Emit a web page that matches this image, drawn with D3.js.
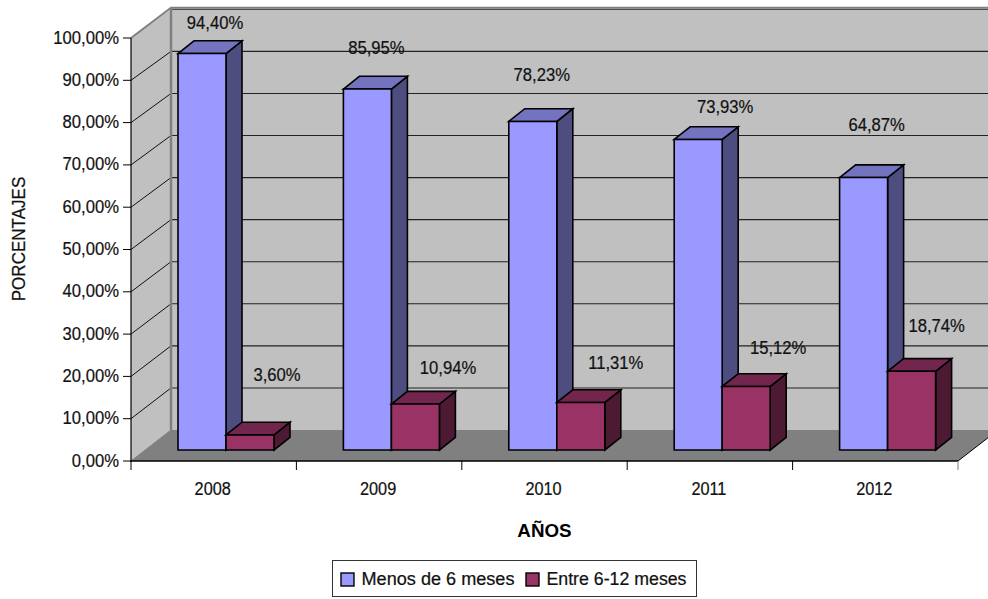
<!DOCTYPE html>
<html><head><meta charset="utf-8">
<script src="https://cdn.jsdelivr.net/npm/d3@7"></script>
<style>
html,body{margin:0;padding:0;background:#fff;overflow:hidden}
text{font-family:"Liberation Sans",sans-serif;fill:#111;stroke:#111;stroke-width:.22px}
</style></head><body><svg id="c" width="988" height="599"></svg>
<script>
const years=["2008","2009","2010","2011","2012"];
const seriesNames=["Menos de 6 meses","Entre 6-12 meses"];
const menos6=[94.40,85.95,78.23,73.93,64.87];
const entre612=[3.60,10.94,11.31,15.12,18.74];
const yTicks=[0,10,20,30,40,50,60,70,80,90,100];
// hand-placed data labels of the reference: lift above bar top, shift from bar centre
const labelLiftA=[24.5,35,40.5,26.5,46.5], labelShiftA=[13,9,9,27,13];
const labelLiftB=[54,30,33.4,32.4,39.5], labelShiftB=[27,32.6,35,32,25];

const fmt=v=>v.toFixed(2).replace(".",",")+"%";
const svg=d3.select("#c");
const L=131,R=958,B=461,T=38,DX=40,DY=31;
const y=d3.scaleLinear().domain([0,100]).range([B,T]);
const yBack=d3.scaleLinear().domain([0,100]).range([B-DY,9.3]);
const x=d3.scaleBand().domain(years).range([L,R]);
const bh=d3.scaleLinear().domain([0,100]).range([0,420]);
const barBase=450,barW=48,barInset=47,bdx=16,bdy=12.7;
const poly=(g,p,f,s=1.6)=>g.append("polygon").attr("points",p.map(a=>a.join(",")).join(" ")).attr("fill",f).attr("stroke","#000").attr("stroke-width",s).attr("stroke-linejoin","miter");
// narrow text: Arial-Narrow look made by squeezing Liberation Sans
function label(px,py,str,anchor="middle",size=18.5,sx=.9){
  return svg.append("text").attr("transform",`translate(${px},${py}) scale(${sx},1)`).attr("text-anchor",anchor).attr("font-size",size).text(str);
}

// walls
svg.append("polygon").attr("points",[[L+DX,yBack(100)],[R+DX,yBack(100)],[R+DX,B-DY],[L+DX,B-DY]].join(" ")).attr("fill","#c0c0c0");
svg.append("polygon").attr("points",[[L,T],[L+DX,yBack(100)],[L+DX,B-DY],[L,B]].join(" ")).attr("fill","#c0c0c0");
svg.append("polygon").attr("points",[[L,B],[L+DX,B-DY],[R+DX,B-DY],[R,B]].join(" ")).attr("fill","#808080");
// grid
const g=svg.append("g");
yTicks.filter(t=>t>0).forEach(t=>{
  g.append("line").attr("x1",L+DX).attr("x2",R+DX).attr("y1",yBack(t)).attr("y2",yBack(t)).attr("stroke","#222").attr("stroke-width",1.1);
  if(t<100) g.append("line").attr("x1",L).attr("x2",L+DX).attr("y1",y(t)).attr("y2",yBack(t)).attr("stroke","#111").attr("stroke-width",1);
});
// wall edges
svg.append("polyline").attr("points",[[L,T],[L+DX,yBack(100)-1.5],[R+DX,yBack(100)-1.5]].join(" ")).attr("fill","none").attr("stroke","#808080").attr("stroke-width",2);
svg.append("line").attr("x1",L+DX).attr("x2",L+DX).attr("y1",yBack(100)-1).attr("y2",B-DY).attr("stroke","#808080").attr("stroke-width",2.5);
svg.append("line").attr("x1",R).attr("x2",R+DX).attr("y1",B).attr("y2",B-DY).attr("stroke","#000").attr("stroke-width",1);
svg.append("line").attr("x1",L).attr("x2",L+DX).attr("y1",B).attr("y2",B-DY).attr("stroke","#808080").attr("stroke-width",1);

// bars
const colors=[{f:"#9999ff",t:"#7373bf",s:"#4d4d80"},{f:"#993366",t:"#73264d",s:"#4d1a33"}];
function bar(px,v,c){
  const h=bh(v),top=barBase-h,b=svg.append("g");
  poly(b,[[px+barW,top],[px+barW+bdx,top-bdy],[px+barW+bdx,barBase-bdy],[px+barW,barBase]],c.s);
  poly(b,[[px,top],[px+bdx,top-bdy],[px+barW+bdx,top-bdy],[px+barW,top]],c.t);
  poly(b,[[px,top],[px+barW,top],[px+barW,barBase],[px,barBase]],c.f);
}
years.forEach((yr,i)=>{
  const px=x(yr)+barInset;
  bar(px,menos6[i],colors[0]);
  bar(px+barW,entre612[i],colors[1]);
});
// axes
svg.append("line").attr("x1",L).attr("x2",L).attr("y1",T).attr("y2",B+1).attr("stroke","#000").attr("stroke-width",1.2);
svg.append("line").attr("x1",L-0.5).attr("x2",R).attr("y1",B).attr("y2",B).attr("stroke","#000").attr("stroke-width",1.5);
yTicks.forEach(t=>{
  svg.append("line").attr("x1",L-8).attr("x2",L).attr("y1",y(t)).attr("y2",y(t)).attr("stroke","#000").attr("stroke-width",1);
  label(119,y(t)+5.5,fmt(t),"end");
});
[...years.map(d=>x(d)),R].forEach(px=>{
  svg.append("line").attr("x1",px).attr("x2",px).attr("y1",B).attr("y2",B+9).attr("stroke",px===R?"#808080":"#000").attr("stroke-width",1);
});
years.forEach(yr=>label(x(yr)+x.bandwidth()/2-1,495,yr,"middle",18.5,.88));
// data labels
years.forEach((yr,i)=>{
  const px=x(yr)+barInset;
  label(px+barW/2+labelShiftA[i],barBase-bh(menos6[i])-labelLiftA[i],fmt(menos6[i]));
  label(px+barW*1.5+labelShiftB[i],barBase-bh(entre612[i])-labelLiftB[i],fmt(entre612[i]));
});
// titles
svg.append("text").attr("transform","translate(25,239) rotate(-90) scale(.92,1)").attr("text-anchor","middle").attr("font-size",18.5).text("PORCENTAJES");
svg.append("text").attr("x",544.5).attr("y",537).attr("text-anchor","middle").attr("font-size",18.8).attr("font-weight","bold").style("stroke-width",0).style("fill","#000").text("AÑOS");
// legend
svg.append("rect").attr("x",332.5).attr("y",560.5).attr("width",364).attr("height",36).attr("fill","#fff").attr("stroke","#333").attr("stroke-width",1);
const lx=[341,526],legendTextWidth=[153,140];
seriesNames.forEach((n,i)=>{
  svg.append("rect").attr("x",lx[i]).attr("y",573).attr("width",13).attr("height",13).attr("fill",colors[i].f).attr("stroke","#000").attr("stroke-width",1.4);
  svg.append("text").attr("x",lx[i]+20.5).attr("y",585).attr("font-size",18).attr("textLength",legendTextWidth[i]).attr("lengthAdjust","spacingAndGlyphs").text(n);
});
</script></body></html>
